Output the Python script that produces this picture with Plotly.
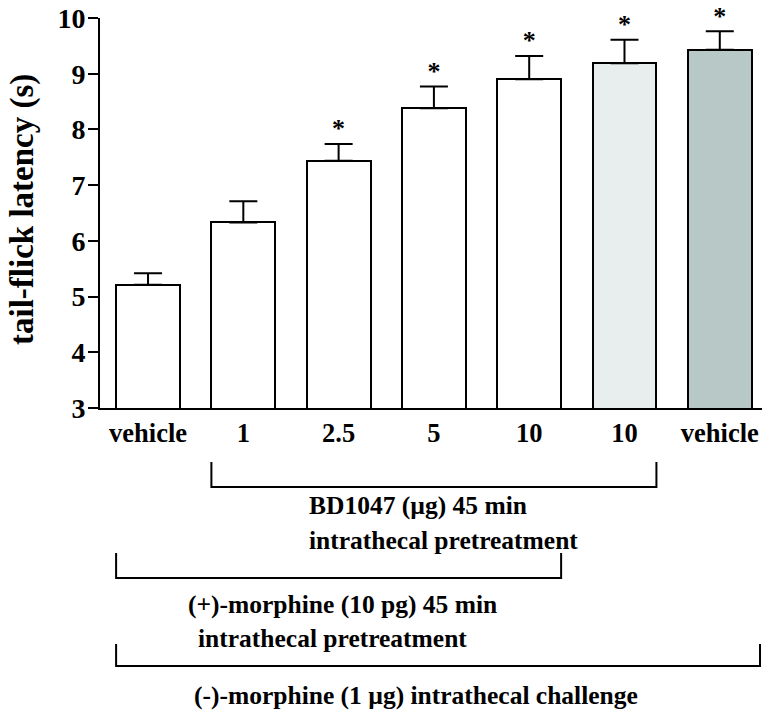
import plotly.graph_objects as go

# ---- data ----
categories = ["vehicle", "1", "2.5", "5", "10", "10", "vehicle"]
latency = [5.21, 6.33, 7.44, 8.38, 8.90, 9.19, 9.43]
sem = [0.21, 0.38, 0.30, 0.39, 0.42, 0.42, 0.33]
significant = [False, False, True, True, True, True, True]
bar_colors = ["#ffffff", "#ffffff", "#ffffff", "#ffffff", "#ffffff", "#e7eeed", "#b7c8c6"]

y_ticks = [3, 4, 5, 6, 7, 8, 9, 10]
y_title = "tail-flick latency (s)"

# bracket definitions: (first bar index, last bar index, label lines)
brackets = [
    (1, 5, ["BD1047 (\u00b5g) 45 min", "intrathecal pretreatment"]),
    (0, 4, ["(+)-morphine (10 pg) 45 min", "intrathecal pretreatment"]),
    (0, 6, ["(-)-morphine (1 \u00b5g) intrathecal challenge"]),
]

FONT = "Liberation Serif"
W, H = 762, 711
ML, MR, MT, MB = 100, 0, 18, 303
BAR_W = 0.67
X_RANGE = [-0.504, 6.443]

xs = list(range(len(categories)))

fig = go.Figure()
fig.add_trace(go.Bar(
    x=xs, y=latency, width=BAR_W,
    marker=dict(color=bar_colors, line=dict(color="black", width=2)),
    error_y=dict(type="data", symmetric=False, array=sem,
                 arrayminus=[0] * len(sem), color="black", thickness=2, width=14),
    showlegend=False,
))

sx = [x for x, s in zip(xs, significant) if s]
sy = [v + e for v, e, s in zip(latency, sem, significant) if s]
fig.add_trace(go.Scatter(
    x=sx, y=sy, mode="text", text=["*"] * len(sx), textposition="top center",
    textfont=dict(family=FONT, size=26, color="black", weight="bold"),
    showlegend=False, cliponaxis=False,
))

plot_w = W - ML - MR
plot_h = H - MT - MB


def px_x(px):
    return (px - ML) / plot_w


def px_y(py):
    return (MT + plot_h - py) / plot_h


def data_to_paper(x):
    return (x - X_RANGE[0]) / (X_RANGE[1] - X_RANGE[0])


shapes = []
annotations = []

# bracket geometry (pixel rows) and label placement
bracket_rows = [(462, 487), (553, 578), (644, 666)]
label_specs = [
    [(307, 505, "left"), (307, 540, "left")],
    [(342, 604, "center"), (332, 638, "center")],
    [(416, 695, "center")],
]
for (i0, i1, lines), (ytop, ybot), specs in zip(brackets, bracket_rows, label_specs):
    xl = data_to_paper(i0 - BAR_W / 2)
    xr = min(1.0, data_to_paper(i1 + BAR_W / 2)) if i1 < len(categories) - 1 else 0.997
    yt, yb = px_y(ytop), px_y(ybot)
    path = f"M {xl},{yt} L {xl},{yb} L {xr},{yb} L {xr},{yt}"
    shapes.append(dict(type="path", path=path, xref="paper", yref="paper",
                       line=dict(color="black", width=2)))
    for (lx, ly, anchor), txt in zip(specs, lines):
        annotations.append(dict(
            text=txt, x=px_x(lx), y=px_y(ly), xref="paper", yref="paper",
            xanchor=anchor, yanchor="middle", showarrow=False,
            font=dict(family=FONT, size=25.5, color="black", weight="bold"),
        ))

annotations.append(dict(
    text=y_title, x=px_x(22), y=px_y(210), xref="paper", yref="paper",
    xanchor="center", yanchor="middle", textangle=-90, showarrow=False,
    font=dict(family=FONT, size=33, color="black", weight="bold"),
))

fig.update_layout(
    width=W, height=H,
    margin=dict(l=ML, r=MR, t=MT, b=MB, pad=0),
    paper_bgcolor="white", plot_bgcolor="white",
    shapes=shapes, annotations=annotations,
    bargap=0,
    xaxis=dict(
        range=X_RANGE, tickmode="array", tickvals=xs, ticktext=categories,
        showline=True, linecolor="black", linewidth=2, ticks="",
        showgrid=False, zeroline=False,
        tickfont=dict(family=FONT, size=26.5, color="black", weight="bold"),
    ),
    yaxis=dict(
        range=[3, 10], tickmode="array", tickvals=y_ticks,
        showline=True, linecolor="black", linewidth=2,
        ticks="outside", ticklen=10, tickwidth=2, tickcolor="black",
        showgrid=False, zeroline=False, ticklabelstandoff=-3,
        tickfont=dict(family=FONT, size=28, color="black", weight="bold"),
    ),
)

fig.write_html("out.html")
